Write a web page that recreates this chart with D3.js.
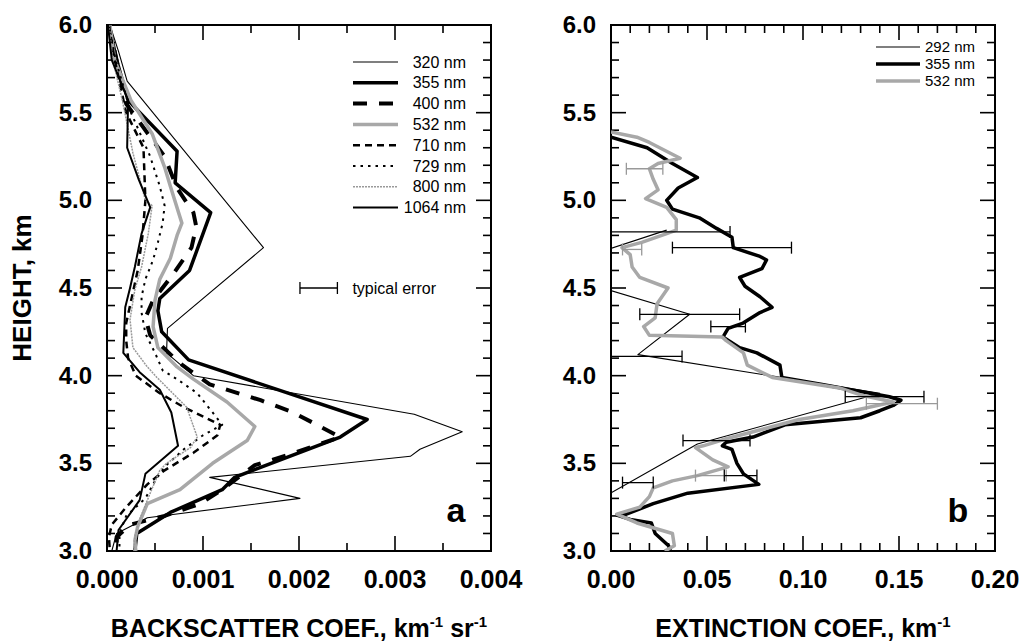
<!DOCTYPE html>
<html>
<head>
<meta charset="utf-8">
<script src="https://cdn.jsdelivr.net/npm/d3@7"></script>
<style>
  body { margin: 0; background: #fff; }
  svg text { font-family: Arial, "Liberation Sans", Helvetica, sans-serif; }
</style>
</head>
<body>
<svg id="chart" width="1024" height="644"></svg>
<script>
/* DATA: [height km, coefficient] */
// left panel - backscatter
const b320 = [[6.0,0.00003],[5.85,0.00012],[5.68,0.00021],[4.73,0.00163],[4.27,0.00063],[4.13,0.00062],[4.0,0.0009],[3.78,0.0032],[3.68,0.0037],[3.58,0.00326],[3.54,0.00316],[3.42,0.00107],[3.30,0.00201],[3.19,0.00042],[3.10,0.0001],[3.0,0.00005]];
const b355 = [[6.0,0.00002],[5.8,0.0001],[5.57,0.00022],[5.28,0.00073],[5.10,0.00071],[4.93,0.00108],[4.60,0.00086],[4.44,0.00055],[4.37,0.00053],[4.25,0.00057],[4.09,0.00085],[3.75,0.00271],[3.65,0.00243],[3.42,0.00133],[3.35,0.0012],[3.22,0.00066],[3.10,0.00031],[3.0,0.00029]];
const b400 = [[6.0,0.00002],[5.8,0.0001],[5.55,0.0002],[5.25,0.0006],[5.07,0.00073],[4.93,0.0009],[4.85,0.00093],[4.73,0.00088],[4.58,0.00069],[4.43,0.00048],[4.33,0.0004],[4.23,0.00045],[4.07,0.00076],[3.95,0.00107],[3.86,0.0016],[3.79,0.00194],[3.65,0.00243],[3.55,0.0019],[3.49,0.00154],[3.35,0.0012],[3.27,0.00097],[3.20,0.0006],[3.15,0.00024],[3.08,0.0001],[3.0,0.0001]];
const b532 = [[6.0,0.00003],[5.8,0.00008],[5.57,0.00025],[5.38,0.00047],[5.19,0.0006],[5.08,0.00066],[4.87,0.00078],[4.80,0.00073],[4.67,0.00066],[4.55,0.00055],[4.43,0.0005],[4.28,0.00048],[4.16,0.00053],[4.05,0.00073],[3.98,0.0009],[3.85,0.00125],[3.71,0.00154],[3.63,0.00146],[3.50,0.0011],[3.35,0.00076],[3.27,0.00042],[3.14,0.00032],[3.06,0.00029],[3.0,0.0003]];
const b710 = [[6.0,0.00002],[5.8,0.00008],[5.5,0.0002],[5.3,0.00038],[5.0,0.0004],[4.8,0.00037],[4.6,0.00032],[4.45,0.00026],[4.3,0.0002],[4.2,0.0002],[4.1,0.00022],[4.0,0.0003],[3.9,0.00055],[3.82,0.0008],[3.72,0.00118],[3.66,0.00115],[3.56,0.0009],[3.46,0.0006],[3.38,0.00042],[3.25,0.0002],[3.15,0.00005],[3.08,0.00002],[3.0,0.00003]];
const b729 = [[6.0,0.00002],[5.8,0.00009],[5.5,0.00025],[5.25,0.00045],[5.08,0.00055],[4.97,0.0006],[4.87,0.00058],[4.76,0.00053],[4.66,0.00048],[4.55,0.0004],[4.45,0.00036],[4.36,0.00036],[4.24,0.0004],[4.13,0.0005],[4.03,0.00058],[3.98,0.00073],[3.9,0.00094],[3.79,0.0011],[3.72,0.0012],[3.66,0.001],[3.58,0.0008],[3.48,0.0006],[3.40,0.0005],[3.3,0.0004],[3.2,0.0002],[3.1,0.00013],[3.0,0.00013]];
const b800 = [[6.0,0.00002],[5.8,0.00006],[5.57,0.00016],[5.27,0.00027],[5.0,0.0004],[4.97,0.00047],[4.81,0.00043],[4.62,0.00036],[4.49,0.00029],[4.32,0.00024],[4.16,0.00027],[4.05,0.00042],[3.99,0.00052],[3.82,0.00083],[3.65,0.00094],[3.59,0.00087],[3.50,0.00062],[3.46,0.00055],[3.33,0.00045],[3.18,0.00034],[3.08,0.00029],[3.0,0.00028]];
const b1064 = [[6.0,0.00001],[5.8,0.00005],[5.57,0.00022],[5.30,0.00021],[5.12,0.00033],[4.96,0.00045],[4.81,0.00036],[4.62,0.00029],[4.5,0.00024],[4.39,0.00019],[4.13,0.00017],[4.02,0.00034],[3.92,0.00055],[3.79,0.00067],[3.60,0.00074],[3.44,0.0004],[3.29,0.00034],[3.12,0.00012],[3.0,0.0001]];
const typicalError = [4.5, 0.00201, 0.0024];

// right panel - extinction
const e292 = [[4.83,0.029],[4.60,-0.035],[4.35,0.041],[4.12,0.014],[3.90,0.14],[3.61,0.045],[3.30,-0.005],[3.1,-0.03]];
const e355 = [[5.36,0],[5.30,0.0188],[5.21,0.032],[5.13,0.045],[5.07,0.035],[5.0,0.029],[4.95,0.032],[4.90,0.046],[4.84,0.055],[4.79,0.063],[4.73,0.0637],[4.68,0.0776],[4.66,0.081],[4.61,0.0786],[4.56,0.067],[4.51,0.0698],[4.45,0.0776],[4.39,0.0839],[4.36,0.0776],[4.30,0.0688],[4.27,0.061],[4.22,0.0583],[4.16,0.067],[4.13,0.076],[4.06,0.088],[3.99,0.089],[3.95,0.11],[3.91,0.13],[3.88,0.145],[3.86,0.151],[3.83,0.147],[3.80,0.14],[3.76,0.13],[3.72,0.0906],[3.65,0.074],[3.62,0.06],[3.60,0.058],[3.58,0.063],[3.50,0.0656],[3.44,0.069],[3.38,0.077],[3.33,0.04],[3.27,0.022],[3.21,0.008],[3.205,0.003],[3.18,0.01],[3.16,0.021],[3.10,0.023],[3.03,0.03],[3.0,0.031]];
const e532 = [[5.39,0],[5.36,0.0135],[5.33,0.02],[5.24,0.036],[5.21,0.0245],[5.18,0.02],[5.12,0.022],[5.06,0.0245],[5.01,0.018],[4.96,0.029],[4.89,0.034],[4.83,0.034],[4.81,0.029],[4.76,0.016],[4.73,0.0057],[4.69,0.01],[4.62,0.011],[4.56,0.015],[4.50,0.0297],[4.41,0.024],[4.33,0.023],[4.28,0.017],[4.23,0.02],[4.22,0.058],[4.20,0.06],[4.13,0.069],[4.06,0.071],[3.99,0.084],[3.93,0.119],[3.89,0.13],[3.85,0.147],[3.80,0.126],[3.75,0.098],[3.68,0.074],[3.64,0.06],[3.60,0.048],[3.59,0.044],[3.52,0.053],[3.48,0.061],[3.43,0.045],[3.40,0.032],[3.36,0.022],[3.31,0.02],[3.25,0.015],[3.21,0.003],[3.16,0.0135],[3.10,0.032],[3.03,0.033],[3.0,0.028]];
// error bars: [height, low, high]
const errBlack = [[4.82,-0.004,0.062],[4.73,0.032,0.094],[4.35,0.015,0.067],[4.28,0.052,0.070],[4.11,-0.005,0.037],[3.88,0.122,0.163],[3.63,0.0375,0.0724],[3.43,0.059,0.076],[3.39,0.006,0.022]];
const errGrey = [[5.18,0.008,0.027],[4.72,0.006,0.016],[3.84,0.133,0.170],[3.43,0.044,0.060]];

const heightTicks = [3.0, 3.5, 4.0, 4.5, 5.0, 5.5, 6.0];
const backTicks = [0, 0.001, 0.002, 0.003, 0.004];
const extTicks = [0, 0.05, 0.10, 0.15, 0.20];

/* LEGEND / STYLES */
const leftSeries = [
  {name: '320 nm', data: b320, color: '#000', width: 1.1, dash: null},
  {name: '355 nm', data: b355, color: '#000', width: 3.5, dash: null},
  {name: '400 nm', data: b400, color: '#000', width: 4, dash: '14,12'},
  {name: '532 nm', data: b532, color: '#a8a8a8', width: 3.5, dash: null},
  {name: '710 nm', data: b710, color: '#000', width: 2.5, dash: '7,5'},
  {name: '729 nm', data: b729, color: '#000', width: 2, dash: '2.5,5'},
  {name: '800 nm', data: b800, color: '#999', width: 1.5, dash: '2,1'},
  {name: '1064 nm', data: b1064, color: '#000', width: 2, dash: null}
];
const rightSeries = [
  {name: '292 nm', data: e292, color: '#000', width: 1.1},
  {name: '355 nm', data: e355, color: '#000', width: 3.5},
  {name: '532 nm', data: e532, color: '#a8a8a8', width: 3.5}
];

const svg = d3.select('#chart');
const plotTop = 25, plotBottom = 551;

const y = d3.scaleLinear().domain([3, 6]).range([plotBottom, plotTop]);
const xL = d3.scaleLinear().domain([0, 0.004]).range([107, 491]);
const xR = d3.scaleLinear().domain([0, 0.2]).range([611, 995]);

function drawFrame(x, majors, minorStep, fmt, name) {
  const g = svg.append('g');
  const x0 = x.range()[0], x1 = x.range()[1];
  const dom = x.domain();
  // x ticks, top and bottom, pointing inward
  d3.range(dom[0], dom[1] + minorStep / 2, minorStep).forEach(function(v) {
    const isMajor = majors.some(function(m) { return Math.abs(m - v) < minorStep / 10; });
    const len = isMajor ? 15 : 8;
    g.append('line').attr('x1', x(v)).attr('x2', x(v)).attr('y1', plotBottom).attr('y2', plotBottom - len);
    g.append('line').attr('x1', x(v)).attr('x2', x(v)).attr('y1', plotTop).attr('y2', plotTop + len);
  });
  // y ticks, left and right
  d3.range(3, 6.001, 0.1).forEach(function(v) {
    const isMajor = Math.abs(v * 2 - Math.round(v * 2)) < 0.01;
    const len = isMajor ? 15 : 8;
    g.append('line').attr('x1', x0).attr('x2', x0 + len).attr('y1', y(v)).attr('y2', y(v));
    g.append('line').attr('x1', x1).attr('x2', x1 - len).attr('y1', y(v)).attr('y2', y(v));
  });
  g.selectAll('line').attr('stroke', '#000').attr('stroke-width', 1.6);
  g.append('rect').attr('x', x0).attr('y', plotTop).attr('width', x1 - x0).attr('height', plotBottom - plotTop)
    .attr('fill', 'none').attr('stroke', '#000').attr('stroke-width', 2);

  // tick labels
  g.selectAll('text.xl').data(majors).enter().append('text')
    .attr('x', function(d) { return x(d); }).attr('y', 588)
    .attr('text-anchor', 'middle').attr('font-size', 25).attr('font-weight', 'bold')
    .text(fmt);
  g.selectAll('text.yl').data(heightTicks).enter().append('text')
    .attr('x', x0 - 15).attr('y', function(d) { return y(d) + 8; })
    .attr('text-anchor', 'end').attr('font-size', 24).attr('font-weight', 'bold')
    .text(d3.format('.1f'));
  // clip
  svg.append('clipPath').attr('id', name).append('rect')
    .attr('x', x0).attr('y', plotTop).attr('width', x1 - x0).attr('height', plotBottom - plotTop);
}

drawFrame(xL, backTicks, 0.0005, d3.format('.3f'), 'clipL');
drawFrame(xR, extTicks, 0.01, d3.format('.2f'), 'clipR');

/* LEFT PANEL LINES */
const lineL = d3.line().x(function(d) { return xL(d[1]); }).y(function(d) { return y(d[0]); });
const gl = svg.append('g').attr('clip-path', 'url(#clipL)');
leftSeries.forEach(function(s) {
  gl.append('path').datum(s.data).attr('d', lineL)
    .attr('fill', 'none').attr('stroke', s.color).attr('stroke-width', s.width)
    .attr('stroke-dasharray', s.dash).attr('stroke-linejoin', 'round');
});

/* LEFT LEGEND */
const legL = svg.append('g');
leftSeries.forEach(function(s, i) {
  const ly = 62 + i * 20.8;
  legL.append('line').attr('x1', 353).attr('x2', 398).attr('y1', ly).attr('y2', ly)
    .attr('stroke', s.color).attr('stroke-width', s.width).attr('stroke-dasharray', s.dash);
  legL.append('text').attr('x', 466).attr('y', ly + 5.5).attr('text-anchor', 'end')
    .attr('font-size', 16).text(s.name);
});

/* TYPICAL ERROR */
const te = svg.append('g').attr('stroke', '#000').attr('stroke-width', 1.3);
te.append('line').attr('x1', xL(typicalError[1])).attr('x2', xL(typicalError[2]))
  .attr('y1', y(typicalError[0])).attr('y2', y(typicalError[0]));
[typicalError[1], typicalError[2]].forEach(function(v) {
  te.append('line').attr('x1', xL(v)).attr('x2', xL(v))
    .attr('y1', y(typicalError[0]) - 6).attr('y2', y(typicalError[0]) + 6);
});
svg.append('text').attr('x', xL(typicalError[2]) + 15).attr('y', y(typicalError[0]) + 5.5)
  .attr('font-size', 16).text('typical error');

/* RIGHT PANEL LINES */
const lineR = d3.line().x(function(d) { return xR(d[1]); }).y(function(d) { return y(d[0]); });
const gr = svg.append('g').attr('clip-path', 'url(#clipR)');
rightSeries.forEach(function(s) {
  gr.append('path').datum(s.data).attr('d', lineR)
    .attr('fill', 'none').attr('stroke', s.color).attr('stroke-width', s.width)
    .attr('stroke-linejoin', 'round');
});
function errorBars(data, color) {
  data.forEach(function(d) {
    gr.append('line').attr('x1', xR(d[1])).attr('x2', xR(d[2])).attr('y1', y(d[0])).attr('y2', y(d[0]))
      .attr('stroke', color).attr('stroke-width', 1.3);
    [d[1], d[2]].forEach(function(v) {
      gr.append('line').attr('x1', xR(v)).attr('x2', xR(v)).attr('y1', y(d[0]) - 6).attr('y2', y(d[0]) + 6)
        .attr('stroke', color).attr('stroke-width', 1.3);
    });
  });
}
errorBars(errGrey, '#999');
errorBars(errBlack, '#000');

/* RIGHT LEGEND */
const legR = svg.append('g');
rightSeries.forEach(function(s, i) {
  const ly = 47 + i * 17;
  legR.append('line').attr('x1', 876).attr('x2', 920).attr('y1', ly).attr('y2', ly)
    .attr('stroke', s.color).attr('stroke-width', s.width);
  legR.append('text').attr('x', 975).attr('y', ly + 5).attr('text-anchor', 'end')
    .attr('font-size', 15).text(s.name);
});

/* PANEL LETTERS */
svg.append('text').attr('x', 456).attr('y', 522).attr('text-anchor', 'middle')
  .attr('font-size', 34).attr('font-weight', 'bold').text('a');
svg.append('text').attr('x', 958).attr('y', 522).attr('text-anchor', 'middle')
  .attr('font-size', 34).attr('font-weight', 'bold').text('b');

/* AXIS TITLES */
const t1 = svg.append('text').attr('x', 299).attr('y', 637).attr('text-anchor', 'middle')
  .attr('font-size', 25).attr('font-weight', 'bold');
t1.append('tspan').text('BACKSCATTER COEF., km');
t1.append('tspan').attr('dy', -10).attr('font-size', 15).text('-1');
t1.append('tspan').attr('dy', 10).text(' sr');
t1.append('tspan').attr('dy', -10).attr('font-size', 15).text('-1');

const t2 = svg.append('text').attr('x', 803).attr('y', 637).attr('text-anchor', 'middle')
  .attr('font-size', 25).attr('font-weight', 'bold');
t2.append('tspan').text('EXTINCTION COEF., km');
t2.append('tspan').attr('dy', -10).attr('font-size', 15).text('-1');

svg.append('text').attr('transform', 'translate(31,288) rotate(-90)')
  .attr('text-anchor', 'middle').attr('font-size', 26).attr('font-weight', 'bold')
  .text('HEIGHT, km');
</script>
</body>
</html>
